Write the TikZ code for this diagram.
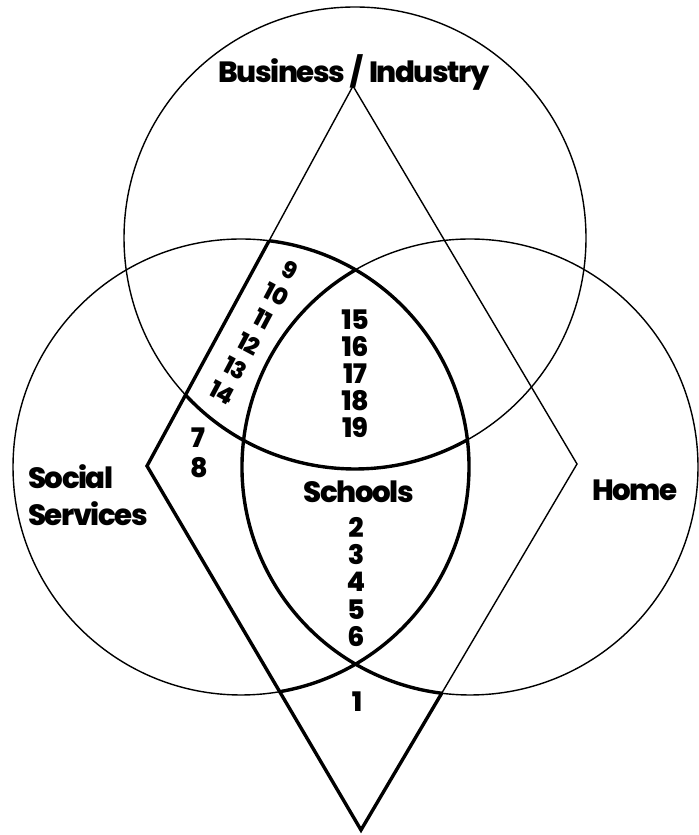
\documentclass[tikz,border=0pt]{standalone}
\usepackage{fontspec}
\setmainfont{Poppins}[BoldFont={Poppins ExtraBold}]
\usetikzlibrary{calc}
\tikzset{
  ring/.style={line width=1.2pt},
  heavy/.style={line width=2.9pt,line join=miter},
  area/.style={font=\fontsize{25}{31.5}\selectfont\bfseries\addfontfeatures{LetterSpace=-5},inner sep=0pt},
  num/.style={font=\fontsize{23}{26}\selectfont\bfseries\addfontfeatures{LetterSpace=-3},inner sep=0pt},
  tilt/.style={num,font=\fontsize{20}{22}\selectfont\bfseries\addfontfeatures{LetterSpace=-3},rotate=-28},
}

\begin{document}
\begin{tikzpicture}[x=0.3mm,y=0.3mm]
  \useasboundingbox (0,0) rectangle (698,835);
  % circle centres
  \coordinate (biz) at (355,597);
  \coordinate (soc) at (241,368);
  \coordinate (hom) at (470,368);
  % diamond corners
  \coordinate (dTop) at (353,749);
  \coordinate (dLeft) at (147,369);
  \coordinate (dRight) at (577,371);
  \coordinate (dBot) at (361,5);
  \draw[ring] (biz) circle[radius=231];
  \draw[ring] (soc) circle[radius=228];
  \draw[ring] (hom) circle[radius=228];
  \draw[ring] (dTop) -- (dLeft) -- (dBot) -- (dRight) -- cycle;
  % heavy outline round the numbered areas
  \coordinate (p1) at ($(dTop)!0.407!(dLeft)$);
  \coordinate (p5) at ($(dRight)!0.626!(dBot)$);
  \draw[heavy] (p1) -- (dLeft) -- (dBot) -- (p5);
  \draw[heavy] (soc) ++(82.9:228) arc[start angle=82.9,end angle=-80.2,radius=228];
  \draw[heavy] (hom) ++(120.1:228) arc[start angle=120.1,end angle=262.9,radius=228];
  \draw[heavy] (biz) ++(222.8:231) arc[start angle=222.8,end angle=299.1,radius=231];
  % labels
  \node[area] (business) at (354,763) {Business\hspace{5pt}/\hspace{5pt}Industry};
  \node[area,align=left,anchor=west] (social) at (28,340) {Social\\Services};
  \node[area] (home) at (635,345) {Home};
  \node[area] (schools) at (359,343) {Schools};
  \node[num] (n1) at (357,133) {1};
  \foreach \n [count=\i from 0] in {2,...,6}
    \node[num] (n\n) at (356,308-27.5*\i) {\n};
  \node[num] (n7) at (198,397) {7};
  \node[num] (n8) at (199,367) {8};
  \foreach \n [count=\i from 0] in {9,...,14}
    \node[tilt] (n\n) at (290-13.6*\i,565-24.6*\i) {\n};
  \foreach \n [count=\i from 0] in {15,...,19}
    \node[num] (n\n) at (355,515-26.8*\i) {\n};
\end{tikzpicture}
\end{document}
